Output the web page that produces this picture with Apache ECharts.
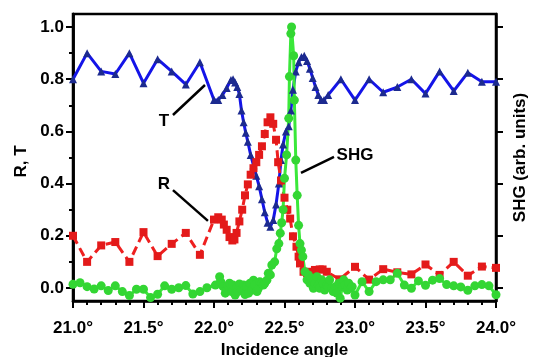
<!DOCTYPE html>
<html>
<head>
<meta charset="utf-8">
<script src="https://cdn.jsdelivr.net/npm/echarts@6/dist/echarts.min.js"></script>
<style>
  html, body { margin: 0; background: #fff; }
  #main { width: 536px; height: 357px; }
</style>
</head>
<body>
<div id="main"></div>
<script>
// transmission T
var tAngle = [21.0, 21.1, 21.2, 21.3, 21.4, 21.5, 21.6, 21.7, 21.8, 21.9,
  22.0, 22.03, 22.06, 22.09, 22.12, 22.135, 22.15, 22.165, 22.18,
  22.195, 22.21, 22.225, 22.24, 22.26, 22.28, 22.30, 22.32, 22.34, 22.36,
  22.38, 22.40, 22.42, 22.44, 22.46, 22.475, 22.49, 22.51, 22.53, 22.545,
  22.56, 22.58, 22.60, 22.62, 22.64, 22.66, 22.68, 22.70, 22.72, 22.74,
  22.76, 22.78, 22.81, 22.9,
  23.0, 23.1, 23.2, 23.3, 23.4, 23.5, 23.6, 23.7, 23.8, 23.9, 24.0];
var tValue = [0.80, 0.90, 0.83, 0.82, 0.90, 0.785, 0.877, 0.83, 0.78, 0.865,
  0.72, 0.72, 0.74, 0.766, 0.797, 0.80, 0.787, 0.77, 0.743,
  0.68, 0.635, 0.595, 0.56, 0.51, 0.47, 0.43, 0.39, 0.34, 0.29,
  0.25, 0.235, 0.26, 0.32, 0.40, 0.49, 0.55, 0.60, 0.62, 0.68,
  0.76, 0.83, 0.865, 0.885, 0.89, 0.87, 0.84, 0.805, 0.77, 0.74,
  0.72, 0.72, 0.74, 0.80,
  0.72, 0.80, 0.75, 0.77, 0.80, 0.745, 0.83, 0.755, 0.825, 0.79, 0.79];

// reflection R
var rAngle = [21.0, 21.1, 21.2, 21.3, 21.4, 21.5, 21.6, 21.7, 21.8, 21.9,
  22.0, 22.03, 22.055, 22.07, 22.09, 22.11, 22.13, 22.145, 22.16, 22.18,
  22.2, 22.22, 22.24, 22.26, 22.28, 22.30, 22.32, 22.34, 22.36, 22.38,
  22.40, 22.42, 22.44, 22.455, 22.475, 22.5, 22.52, 22.54, 22.56, 22.585,
  22.60, 22.61, 22.635, 22.66, 22.68, 22.716, 22.75, 22.77, 22.80, 22.89,
  23.0, 23.1, 23.2, 23.3, 23.4, 23.5, 23.6, 23.7, 23.8, 23.9, 24.0];
var rValue = [0.20, 0.10, 0.163, 0.176, 0.10, 0.214, 0.122, 0.169, 0.211, 0.127,
  0.262, 0.271, 0.262, 0.243, 0.223, 0.195, 0.182, 0.186, 0.211, 0.255,
  0.30, 0.355, 0.397, 0.434, 0.459, 0.482, 0.51, 0.543, 0.59, 0.635,
  0.654, 0.629, 0.568, 0.482, 0.412, 0.346, 0.30, 0.266, 0.198, 0.158,
  0.12, 0.094, 0.062, 0.056, 0.062, 0.069, 0.071, 0.071, 0.062, 0.033,
  0.081, 0.032, 0.072, 0.06, 0.052, 0.09, 0.05, 0.10, 0.047, 0.082, 0.077];

// second harmonic SHG
var shgAngle = [21.0, 21.05, 21.1, 21.15, 21.2, 21.25, 21.3, 21.35, 21.4, 21.45,
  21.5, 21.55, 21.6, 21.65, 21.7, 21.75, 21.8, 21.85, 21.9, 21.95,
  22.01, 22.04, 22.05, 22.065, 22.08, 22.09, 22.10, 22.11, 22.125, 22.135,
  22.15, 22.16, 22.17, 22.18, 22.195, 22.21, 22.22, 22.23, 22.245, 22.255,
  22.27, 22.28, 22.29, 22.305, 22.315, 22.325, 22.34, 22.35, 22.36, 22.375,
  22.385, 22.40, 22.41, 22.43, 22.445, 22.46, 22.47, 22.48, 22.49, 22.50,
  22.515, 22.53, 22.535, 22.545, 22.55, 22.565, 22.57, 22.58, 22.59, 22.60,
  22.61, 22.62, 22.63, 22.645, 22.66, 22.67, 22.68, 22.69, 22.705, 22.71,
  22.716, 22.73, 22.74, 22.75, 22.765, 22.775, 22.785, 22.80, 22.81, 22.82,
  22.835, 22.845, 22.86, 22.87, 22.885, 22.895, 22.91, 22.92, 22.93, 22.945,
  22.955, 22.97, 22.98, 23.0, 23.05, 23.1, 23.15, 23.2, 23.25, 23.3,
  23.35, 23.4, 23.45, 23.5, 23.55, 23.6, 23.65, 23.7, 23.75, 23.8,
  23.85, 23.9, 23.95, 24.0];
var shgValue = [0.014, 0.02, 0.005, -0.004, 0.008, -0.01, 0.008, -0.014, -0.029, -0.005,
  -0.005, -0.037, -0.024, 0.008, -0.005, 0.001, 0.009, -0.023, -0.014, 0.001,
  0.011, 0.043, 0.022, 0.005, -0.02, -0.008, 0.009, 0.018, -0.014, 0.011,
  -0.027, -0.001, -0.014, 0.015, -0.005, 0.011, -0.025, 0.005, -0.02, 0.018,
  -0.008, 0.03, 0.011, -0.014, -0.001, 0.024, 0.018, 0.011, 0.018, 0.03,
  0.056, 0.05, 0.088, 0.10, 0.15, 0.17, 0.21, 0.25, 0.30, 0.42,
  0.51, 0.65, 0.81, 0.975, 1.0, 0.89, 0.72, 0.49, 0.355, 0.24,
  0.17, 0.145, 0.12, 0.062, 0.031, 0.05, 0.018, 0.037, -0.001, 0.027,
  0.018, 0.043, 0.011, -0.001, 0.031, 0.018, -0.008, 0.011, 0.005, 0.031,
  -0.001, -0.014, 0.005, -0.02, 0.018, -0.039, 0.005, 0.031, 0.011, -0.008,
  0.018, -0.001, 0.005, -0.027, 0.024, -0.014, 0.024, 0.031, 0.031, 0.056,
  0.011, -0.001, 0.027, 0.01, 0.03, 0.036, 0.013, 0.008, 0.004, -0.009,
  0.008, 0.013, 0.008, -0.026];

var yMajor = [0, 0.2, 0.4, 0.6, 0.8, 1.0];
var yMinor = [0.1, 0.3, 0.5, 0.7, 0.9];

// curve labels and their pointer lines, in data coordinates [angle, value]
var labelNames = ['T', 'R', 'SHG'];
var labelAt = [[21.645, 0.64], [21.645, 0.398], [23.0, 0.51]];
var pointerFrom = [[21.709, 0.663], [21.709, 0.375], [22.617, 0.441]];
var pointerTo = [[21.936, 0.778], [21.957, 0.257], [22.851, 0.502]];

var font = 'Arial, "Liberation Sans", sans-serif';
var tickLine = { color: '#000', width: 2 };

function pairs(xs, ys) {
  return xs.map(function (x, i) { return [x, ys[i]]; });
}

function boldText(size) {
  return { fontFamily: font, fontSize: size, fontWeight: 'bold', color: '#000' };
}

// every y axis shares the same range so all series line up
function yAxisBase(extra) {
  var base = {
    type: 'value',
    min: -0.05,
    max: 1.05,
    splitLine: { show: false },
    axisLine: { show: true, onZero: false, lineStyle: { color: '#000', width: 2.5 } },
    axisLabel: { show: false }
  };
  return Object.assign(base, extra);
}

var chart = echarts.init(document.getElementById('main'));
chart.setOption({
  animation: false,
  grid: {
    left: 73, right: 40, top: 14, bottom: 56,
    outerBoundsMode: 'none',
    show: true, borderColor: '#000', borderWidth: 2.5
  },
  xAxis: {
    type: 'value',
    min: 21,
    max: 24,
    interval: 0.5,
    name: 'Incidence angle',
    nameLocation: 'middle',
    nameGap: 36,
    nameTextStyle: boldText(17),
    axisLine: { show: true, onZero: false, lineStyle: { color: '#000', width: 2.5 } },
    axisTick: { show: true, length: 7, lineStyle: tickLine },
    minorTick: { show: true, splitNumber: 5, length: 4, lineStyle: tickLine },
    splitLine: { show: false },
    axisLabel: Object.assign({
      formatter: function (v) { return v.toFixed(1) + '°'; },
      margin: 19
    }, boldText(17))
  },
  yAxis: [
    yAxisBase({
      position: 'left',
      name: 'R, T',
      nameLocation: 'middle',
      nameGap: 42,
      nameTextStyle: Object.assign({ padding: [0, 8, 0, 0] }, boldText(17)),
      axisTick: { show: true, customValues: yMajor, length: 7, lineStyle: tickLine },
      axisLabel: Object.assign({
        show: true,
        customValues: yMajor,
        formatter: function (v) { return v.toFixed(1); },
        margin: 9
      }, boldText(17))
    }),
    yAxisBase({
      position: 'left',
      axisTick: { show: true, customValues: yMinor, length: 4, lineStyle: tickLine }
    }),
    yAxisBase({
      position: 'right',
      name: 'SHG (arb. units)',
      nameLocation: 'middle',
      nameGap: 16,
      nameTextStyle: boldText(17),
      axisTick: { show: true, customValues: yMajor, length: 7, lineStyle: tickLine }
    })
  ],
  series: [
    {
      name: 'T', type: 'line', yAxisIndex: 0,
      data: pairs(tAngle, tValue),
      symbol: 'triangle', symbolSize: 8,
      lineStyle: { color: '#1414e8', width: 3 },
      itemStyle: { color: '#1c2a8f' },
      markLine: {
        silent: true,
        symbol: 'none',
        label: { show: false },
        lineStyle: { color: '#000', width: 2.5, type: 'solid' },
        data: pointerFrom.map(function (p, i) {
          return [{ coord: p }, { coord: pointerTo[i] }];
        })
      },
      markPoint: {
        silent: true,
        symbol: 'circle',
        symbolSize: 0,
        label: Object.assign({ show: true, position: 'inside', formatter: '{b}' }, boldText(17)),
        data: labelNames.map(function (n, i) {
          return { name: n, coord: labelAt[i] };
        })
      }
    },
    {
      name: 'R', type: 'line', yAxisIndex: 0,
      data: pairs(rAngle, rValue),
      symbol: 'rect', symbolSize: 8,
      lineStyle: { color: '#ee2020', width: 3, type: [9, 5] },
      itemStyle: { color: '#e31a1a' }
    },
    {
      name: 'SHG', type: 'line', yAxisIndex: 2,
      data: pairs(shgAngle, shgValue),
      symbol: 'circle', symbolSize: 9,
      lineStyle: { color: '#3ae83a', width: 3 },
      itemStyle: { color: '#33d633' }
    }
  ]
});
</script>
</body>
</html>
